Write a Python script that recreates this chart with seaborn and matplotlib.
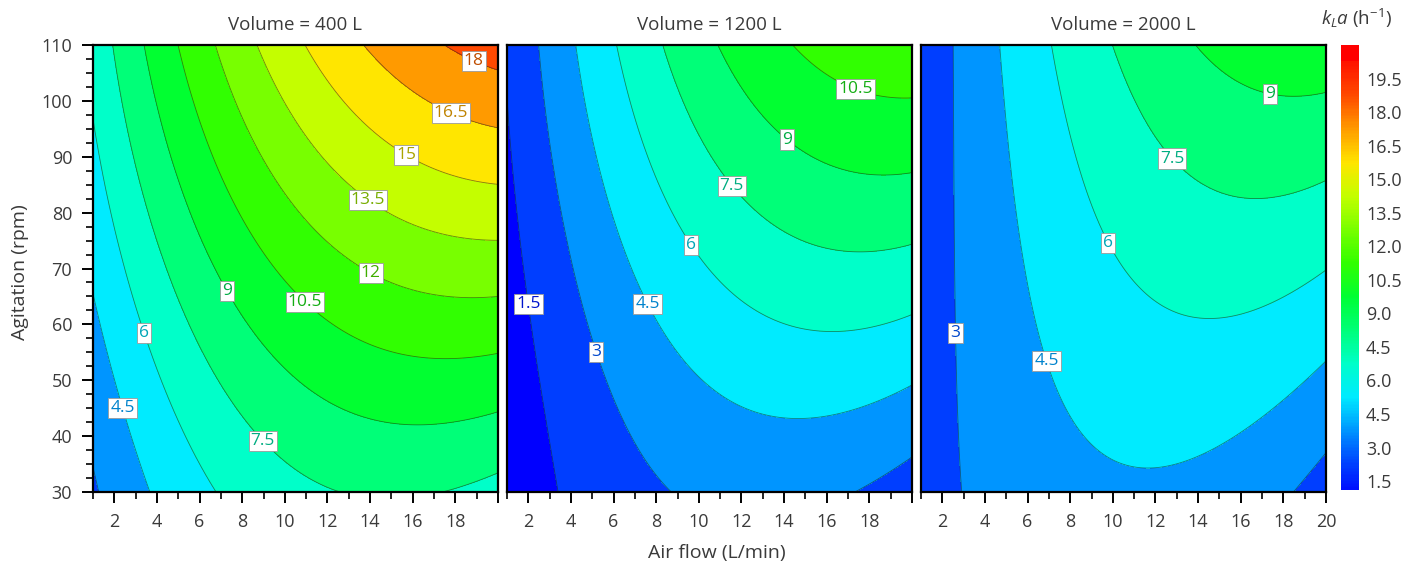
import numpy as np
import matplotlib
matplotlib.use("Agg")
import matplotlib.pyplot as plt
import matplotlib.colors as mcolors
import matplotlib.cm as cm
from matplotlib.ticker import MultipleLocator, FixedLocator
import seaborn as sns

# ---------------- data ----------------
titles = ["Volume = 400 L", "Volume = 1200 L", "Volume = 2000 L"]
levels = [1.5, 3.0, 4.5, 6.0, 7.5, 9.0, 10.5, 12.0, 13.5, 15.0, 16.5, 18.0, 19.5, 21.0]
cbar_ticks = [1.5, 3.0, 4.5, 6.0, 7.5, 9.0, 10.5, 12.0, 13.5, 15.0, 16.5, 18.0, 19.5]
cbar_labels = ["1.5", "3.0", "4.5", "6.0", "4.5", "9.0", "10.5", "12.0", "13.5",
               "15.0", "16.5", "18.0", "19.5"]
band_colors = ["#0000ff", "#0040ff", "#0096ff", "#00ebff", "#00ffc8", "#00ff78",
               "#00ff32", "#32ff00", "#78ff00", "#c3ff00", "#ffe600", "#ff9b00",
               "#ff4b00", "#ff1400"]

# points (air flow, agitation, kLa)
v400_x = [1, 20, 1, 20,
          1, 2.35, 3.7,
          1, 3.4, 6.9,
          1.95, 9.0, 11.2, 16.5, 20,
          3.44, 7.3, 10.7, 13.9, 20,
          5.0, 10.95, 20,
          6.7, 14.0, 20,
          8.7, 13.9, 20,
          10.95, 15.7, 20,
          13.6, 17.8, 20,
          17.6, 20]
v400_y = [110, 110, 30, 30,
          65, 45, 30,
          97, 58.5, 30,
          110, 39.3, 30, 30, 34,
          110, 66, 50, 44.2, 44.2,
          110, 64, 54.5,
          110, 69, 64.7,
          110, 82.3, 75,
          110, 90.3, 85.3,
          110, 97.8, 95.3,
          110, 105.9]
v400_k = [6.55, 18.7, 2.8, 7.1,
          4.5, 4.5, 4.5,
          6, 6, 6,
          7.5, 7.5, 7.5, 7.5, 7.5,
          9, 9, 9, 9, 9,
          10.5, 10.5, 10.5,
          12, 12, 12,
          13.5, 13.5, 13.5,
          15, 15, 15,
          16.5, 16.5, 16.5,
          18, 18]

v1200_x = [1, 1, 20, 20,
           1, 2.17, 3.8,
           2.55, 5.1, 6.9, 8.75, 17.1, 20,
           4.28, 7.5, 10.06, 14.75, 20,
           6.16, 9.6, 11.6, 16.3, 20,
           8.28, 11.6, 15.6, 20,
           10.86, 14.2, 20,
           14.3, 17.3, 20]
v1200_y = [110, 30, 30, 110,
           99, 63.8, 30,
           110, 55, 38, 30, 30, 37,
           110, 63.5, 50.1, 43.3, 49.2,
           110, 74.2, 63.8, 58.7, 61.7,
           110, 85, 75.7, 74.6,
           110, 93.4, 86.7,
           110, 101.6, 99.6]
v1200_k = [1.7, 0.6, 2.4, 11.4,
           1.5, 1.5, 1.5,
           3, 3, 3, 3, 3, 3,
           4.5, 4.5, 4.5, 4.5, 4.5,
           6, 6, 6, 6, 6,
           7.5, 7.5, 7.5, 7.5,
           9, 9, 9,
           10.5, 10.5, 10.5]

v2000_x = [1, 1, 20, 20,
           2.82, 3.0, 3.3, 18.15, 20,
           4.83, 6.75, 7.96, 11.1, 16.0, 20,
           7.03, 9.6, 10.4, 14.5, 20,
           9.9, 12.7, 14.5, 16.8, 20,
           13.9, 17.4, 20]
v2000_y = [110, 30, 30, 110,
           110, 58.5, 30, 30, 37.2,
           110, 53.3, 41.1, 34, 42.4, 53.1,
           110, 74.2, 67.4, 61.3, 69.8,
           110, 89.4, 84.6, 83.2, 85.8,
           110, 102, 102]
v2000_k = [2.1, 2.5, 2.5, 9.9,
           3, 3, 3, 3, 3,
           4.5, 4.5, 4.5, 4.5, 4.5, 4.5,
           6, 6, 6, 6, 6,
           7.5, 7.5, 7.5, 7.5, 7.5,
           9, 9, 9]

# contour label anchors (layout)
label_pos = [
    [(18.85, 107), (17.8, 97.8), (15.7, 90.3), (13.9, 82.3), (14.0, 69), (10.95, 64),
     (7.3, 66), (9.0, 39.3), (3.4, 58.5), (2.35, 45)],
    [(17.3, 101.6), (14.2, 93.4), (11.6, 85), (9.6, 74.2), (7.5, 63.5), (5.1, 55),
     (2.17, 63.8)],
    [(17.4, 102), (12.7, 89.4), (9.6, 74.2), (6.75, 53.3), (3.0, 58.5)],
]
label_levels = [
    [4.5, 6.0, 7.5, 9.0, 10.5, 12.0, 13.5, 15.0, 16.5, 18.0],
    [1.5, 3.0, 4.5, 6.0, 7.5, 9.0, 10.5],
    [3.0, 4.5, 6.0, 7.5, 9.0],
]

panels = [(v400_x, v400_y, v400_k), (v1200_x, v1200_y, v1200_k), (v2000_x, v2000_y, v2000_k)]

# ---------------- style ----------------
sns.set_theme(style="ticks")
plt.rcParams["font.family"] = ["Open Sans", "DejaVu Sans"]
plt.rcParams["mathtext.fontset"] = "custom"
plt.rcParams["mathtext.rm"] = "Open Sans"
plt.rcParams["mathtext.it"] = "Open Sans:italic"
TXT = "#3a3a3a"

cmap = sns.blend_palette(band_colors, as_cmap=True)
cmap.set_under("#0000ff")
cmap.set_over("#ff0000")
norm = mcolors.Normalize(vmin=0.75, vmax=20.25)


def design(x, y):
    u = (np.asarray(x, float) - 10.5) / 9.5
    w = (np.asarray(y, float) - 70.0) / 40.0
    return np.column_stack([np.ones_like(u), u, w, u * u, u * w, w * w,
                            u ** 3, u * u * w, u * w * w, w ** 3])


xg = np.linspace(1, 20, 240)
yg = np.linspace(30, 110, 240)
XG, YG = np.meshgrid(xg, yg)

fig = plt.figure(figsize=(14.04, 5.66), dpi=100)
W, H = 1404.0, 566.0
lefts = [93, 507, 921]
pw, top, bot = 405, 45, 492

for i, (px, py, pk) in enumerate(panels):
    ax = fig.add_axes([lefts[i] / W, 1 - bot / H, pw / W, (bot - top) / H])
    coef, *_ = np.linalg.lstsq(design(px, py), np.asarray(pk, float), rcond=None)
    Z = (design(XG.ravel(), YG.ravel()) @ coef).reshape(XG.shape)
    ax.contourf(XG, YG, Z, levels=levels, cmap=cmap, norm=norm, extend="both")
    ax.contour(XG, YG, Z, levels=levels, colors=[(0.1, 0.15, 0.1, 0.55)],
               linewidths=0.6)
    lab_cols = []
    for lv in label_levels[i]:
        r, g, b, _ = cmap(norm(lv))
        lab_cols.append((r * 0.75, g * 0.68, b * 0.8))
    cs_lab = ax.contour(XG, YG, Z, levels=label_levels[i], colors="none",
                        linewidths=0)
    texts = ax.clabel(cs_lab, manual=label_pos[i], inline=False,
                      fontsize=12.5, fmt=lambda v: f"{v:g}", colors=lab_cols)
    for t in texts:
        t.set_rotation(0)
        t.set_bbox(dict(facecolor="white", edgecolor="#9a9a9a", linewidth=0.6,
                        boxstyle="square,pad=0.12"))
    ax.set_xlim(1, 20)
    ax.set_ylim(30, 110)
    for s in ax.spines.values():
        s.set_color("black")
        s.set_linewidth(1.6)
    ax.xaxis.set_major_locator(FixedLocator(list(range(2, 21, 2))))
    ax.xaxis.set_minor_locator(FixedLocator(list(range(1, 20, 2))))
    if i < 2:
        ax.set_xticklabels([str(v) for v in range(2, 19, 2)] + [""])
    ax.tick_params(axis="x", which="major", direction="out", length=8, width=1.4,
                   colors="black", labelcolor=TXT, labelsize=13, pad=7)
    ax.tick_params(axis="x", which="minor", direction="out", length=5, width=1.2,
                   colors="black")
    if i == 0:
        ax.yaxis.set_major_locator(MultipleLocator(10))
        ax.yaxis.set_minor_locator(MultipleLocator(2.5))
        ax.tick_params(axis="y", which="major", direction="out", length=8, width=1.4,
                       colors="black", labelcolor=TXT, labelsize=13, pad=7)
        ax.tick_params(axis="y", which="minor", direction="out", length=5, width=1.2,
                       colors="black")
    else:
        ax.set_yticks([])
        ax.yaxis.set_minor_locator(FixedLocator([]))
    ax.set_title(titles[i], fontsize=13.5, color=TXT, pad=11)

# colorbar
cax = fig.add_axes([1341 / W, 1 - 490 / H, 18 / W, 445 / H])
sm = cm.ScalarMappable(norm=norm, cmap=cmap)
cb = fig.colorbar(sm, cax=cax, boundaries=np.linspace(1.1, 21, 300), ticks=cbar_ticks)
cb.outline.set_visible(False)
cax.set_yticklabels(cbar_labels)
cax.tick_params(length=0, labelsize=13, labelcolor=TXT, pad=5)
fig.text(1356 / W, 1 - 18 / H, r"$k_La$ (h$^{-1}$)", ha="center", va="center",
         fontsize=13.5, color=TXT)

fig.text(717 / W, 1 - 553 / H, "Air flow (L/min)", ha="center", va="center",
         fontsize=14, color=TXT)
fig.text(20 / W, 1 - 272 / H, "Agitation (rpm)", ha="center", va="center",
         rotation=90, fontsize=14, color=TXT)

fig.savefig("out.png", dpi=100)
